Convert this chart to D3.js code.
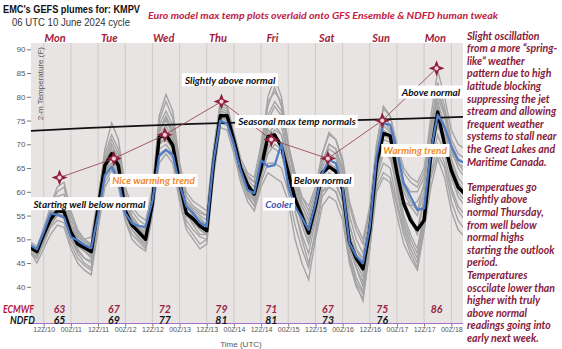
<!DOCTYPE html>
<html>
<head>
<meta charset="utf-8">
<script src="https://cdn.jsdelivr.net/npm/d3@7"></script>
<style>
body { margin: 0; background: #fff; }
svg { display: block; }
.cal { font-family: Lato, "Open Sans", sans-serif; font-weight: bold; font-style: italic; }
.ar { font-family: "Liberation Sans Narrow", "Liberation Sans", Arial, sans-serif; }
</style>
</head>
<body>
<svg></svg>
<script>
// 3-hourly output starting at the 06 UTC cycle time
let startTime = '2024-06-10T06:00Z';
let stepHours = 3;

let meanTemps = [48.3, 47.4, 51.0, 54.2, 56.0, 55.8, 51.5, 49.0, 48.2, 47.4,
    56.5, 65.5, 68.0, 65.5, 56.0, 53.0, 51.5, 50.0,
    57.5, 71.5, 72.0, 69.8, 62.0, 55.5, 54.3, 52.8,
    51.8, 66.0, 76.0, 76.0, 70.8, 65.0, 61.5, 59.5,
    65.0, 71.6, 72.0, 69.5, 64.0, 58.5, 55.0, 51.3,
    57.0, 64.0, 65.3, 64.3, 60.5, 49.5, 46.0, 43.8,
    52.0, 66.0, 72.3, 71.8, 64.0, 57.5, 54.0, 52.0,
    54.0, 68.0, 76.8, 70.0, 64.5, 61.0, 59.5];

let blueTemps = [48.8, 47.9, 51.5, 55.4, 55.2, 54.6, 50.5, 49.8, 48.8, 48.1,
    55.0, 63.5, 65.3, 62.5, 55.5, 53.4, 52.8, 52.6,
    58.0, 67.5, 68.8, 67.8, 61.5, 56.9, 55.5, 53.5,
    52.7, 66.5, 75.0, 74.4, 70.0, 64.5, 60.4, 59.7,
    66.7, 65.3, 65.6, 70.2, 61.1, 56.9, 54.5, 52.0,
    57.5, 63.9, 66.7, 66.0, 61.1, 49.2, 46.5, 44.9,
    52.7, 67.4, 74.4, 74.1, 68.8, 61.8, 59.0, 56.2,
    56.5, 68.8, 76.2, 73.7, 69.5, 66.7, 66.0];

let members = [
    [49, 48, 52, 57, 61, 62, 56, 52, 50, 49, 58, 69, 74.5, 71, 61, 57, 55, 54, 60, 76, 80.5, 77, 66, 60, 58, 57, 56, 69, 78.5, 78, 72, 66, 63, 62, 68, 80, 84, 80, 70, 63, 59, 56, 60, 68, 72, 71, 66, 57, 52, 49, 56, 70, 77.5, 76, 69, 64, 62, 61, 64, 76, 85.5, 80, 73, 70, 69],
    [47.5, 45, 48, 51, 53, 52.5, 48, 45, 43.5, 42.5, 52, 61, 63.5, 61, 54, 50, 48.5, 47.5, 55, 66, 68, 66, 58, 52, 50, 48, 49, 63, 73.5, 73, 68, 62, 58, 56, 61, 64, 63, 62, 58, 50, 45, 41.5, 50, 57, 59, 58, 54, 45, 40, 37.5, 48, 60, 63, 62, 55, 49, 46, 43.5, 52, 61, 67, 63, 56, 52, 50.5],
    [48, 46.5, 50, 54, 57, 57.5, 52, 48, 46, 45, 55, 66, 70, 67, 58, 54, 52, 51, 58, 73, 75, 72, 63, 57, 55, 53, 52, 67, 77, 76.5, 71, 65, 62, 60, 65, 75, 78, 76, 67, 60, 55, 52, 57, 65, 68, 67, 62, 51, 46, 43, 52, 67, 73, 72, 64, 58, 55, 52, 59, 71, 79, 74, 67, 63, 61],
    [48.8, 47.8, 51.5, 55, 57.5, 57, 52.5, 50, 49, 48, 57, 65, 67, 64.5, 56, 53, 51, 49.5, 57, 71, 73, 70.5, 62, 56, 54, 52, 51, 66, 75.5, 75.5, 70, 64, 61, 59, 66, 73, 72, 70, 64, 58, 54, 50, 55, 62, 64, 63, 60, 48, 44, 41, 51, 65, 71, 70.5, 62, 55, 51, 48, 56, 69, 76, 70, 63, 59, 57],
    [47, 46, 49.5, 53, 55, 54.5, 50, 47, 45, 44, 55, 64, 66, 63, 55, 52, 50.5, 49, 58, 70, 71, 69, 61, 55, 53.5, 52, 51, 65, 76.5, 76, 70, 64.5, 61, 58.5, 64, 70, 69, 68, 62, 56, 51, 47, 54, 61, 63, 62, 58, 47, 42, 39, 50, 64, 69, 68, 60, 53, 49, 46, 54, 66, 72, 68, 61, 57, 55],
    [49.5, 48.5, 52, 56, 59, 59.5, 54, 51, 49.5, 48.5, 58, 67, 71, 68, 59, 55, 53, 52, 60, 74, 77, 74, 65, 58, 56, 55, 54, 68, 78, 77.5, 72, 66, 63.5, 62, 69, 78, 82, 78, 69, 62, 57, 54, 56, 60, 62, 61.5, 58, 50, 45, 42, 50, 63, 68, 67, 62, 58, 57, 58, 61, 70, 74, 72, 68, 66, 65],
    [48, 47, 50.5, 54, 56.5, 56, 51, 48.5, 47.5, 46.5, 56, 65, 68.5, 66, 57, 53.5, 52, 50.5, 58, 72, 74, 71, 63, 57, 55, 54, 53, 67, 76, 75.5, 70.5, 64, 60, 58, 64, 71, 73, 72, 66, 60, 56, 53, 58, 66, 70, 69, 64, 53, 48, 46, 54, 68, 75, 73, 66, 61, 58, 56, 62, 73, 81, 77, 70, 66, 64],
    [47.8, 46.8, 50, 53.5, 55.5, 55, 50.5, 47.5, 46, 45.5, 54, 63, 65, 62.5, 55, 52, 50, 48.5, 56, 69, 70, 68, 60, 54, 52, 50.5, 50, 64, 74.5, 74, 69, 63, 59.5, 57, 62, 66, 66, 65, 60, 53, 48, 44, 52, 60, 61, 60, 56, 46, 41, 38.5, 49, 62, 66, 65, 58, 52, 48, 45, 53, 64, 70, 66, 60, 56, 54],
    [49, 47.5, 51, 55.5, 58, 58.5, 53, 50, 48, 47, 57, 66, 69, 66.5, 58, 54, 52.5, 51.5, 59, 73, 76, 73, 64, 58, 56.5, 55.5, 55, 68, 77.5, 77, 71.5, 65.5, 62.5, 61, 67, 76, 79, 77, 70, 64, 59, 57, 61, 68, 72.5, 71, 67, 58, 53, 50, 57, 70, 78, 76, 70, 65, 63, 62, 65, 74, 83, 78, 71, 68, 67],
    [48.5, 47, 50.5, 54.5, 57, 56.5, 52, 49, 47.5, 46, 56, 64, 67.5, 65, 56.5, 53, 51, 50, 57.5, 71, 72.5, 70, 62, 56, 54, 53, 52, 66, 75.5, 75, 70, 64, 61.5, 59.5, 65, 72, 74, 72, 66, 60, 55, 51.5, 57, 64, 66, 65, 61, 51, 47, 44, 53, 66, 72, 71, 63, 57, 54, 51, 58, 70, 78, 73, 66, 62, 60],
    [47.5, 46, 49, 52.5, 54, 53.5, 49, 46, 44.5, 43.5, 53, 62, 64.5, 62, 54, 51, 49.5, 48, 56, 68, 69, 67, 59, 53, 51, 49, 50, 64.5, 75, 74.5, 69.5, 63, 59, 57, 63, 68, 70, 69, 63, 56, 50, 45, 51, 59, 61, 60, 56, 46, 40.5, 37, 48, 61, 64, 63, 57, 51, 47, 44, 52, 63, 68, 65, 58, 54, 52],
    [49, 48, 52.5, 56.5, 60, 61, 55, 51.5, 50, 50.5, 59, 68, 72, 69, 60, 56, 54, 53, 61, 75, 79, 75.5, 66, 59, 57, 56, 55, 69, 79, 78, 72.5, 67, 64, 63, 70, 79, 81, 79, 70, 63, 58, 55, 59, 66, 70, 69, 65, 55, 50, 47, 55, 68, 76, 74, 67, 62, 60, 60, 63, 72, 80, 76, 70, 67, 66],
    [48, 47, 50, 53, 55, 55, 51, 49, 48.5, 48, 56, 64.5, 66, 64, 56, 53, 51.5, 50, 57, 70, 72, 69.5, 61, 55.5, 53, 51, 51, 66, 76, 75.5, 70, 64, 60.5, 58, 63, 69, 71, 70, 64, 58, 53, 49, 55, 63, 65, 64, 60, 49, 44, 40, 50, 65, 70, 69, 61, 54, 50, 47, 55, 68, 74, 70, 64, 60, 58],
    [48.5, 47.5, 51, 55, 58, 58, 53, 50.5, 49.5, 49, 57.5, 66, 70, 67, 58.5, 54.5, 52.5, 51, 58.5, 72.5, 75.5, 72.5, 64, 57.5, 55.5, 54.5, 53, 67, 77, 76.5, 71, 65, 62, 60, 66, 74, 76, 74, 67, 61, 57, 54, 59, 67, 69, 68, 63, 53, 48, 45, 54, 67, 74, 72.5, 65, 60, 57, 55, 60, 72, 82, 76, 69, 65, 63]
];

let normalDates = ['2024-06-10T06:00Z', '2024-06-11T06:00Z', '2024-06-12T06:00Z', '2024-06-13T06:00Z',
    '2024-06-14T06:00Z', '2024-06-15T06:00Z', '2024-06-16T06:00Z', '2024-06-17T06:00Z', '2024-06-18T06:00Z'];
let normalTemps = [72.8, 73.4, 73.9, 74.3, 74.6, 74.8, 75.1, 75.4, 75.8];

let ecmwfTimes = ['2024-06-10T19:00Z', '2024-06-11T19:00Z', '2024-06-12T17:30Z', '2024-06-13T18:30Z',
    '2024-06-14T16:30Z', '2024-06-15T17:30Z', '2024-06-16T17:30Z', '2024-06-17T17:30Z'];
let ecmwfMax = [63, 67, 72, 79, 71, 67, 75, 86];
let ndfdMax = [65, 69, 77, 81, 81, 73, 76];

let dayNames = ['Mon', 'Tue', 'Wed', 'Thu', 'Fri', 'Sat', 'Sun', 'Mon'];
let yTicks = [40, 45, 50, 55, 60, 65, 70, 75, 80, 85, 90];

let notes = [
    { text: 'Starting well below normal', time: '2024-06-11T08:10Z', temp: 57.4, color: '#111' },
    { text: 'Nice warming trend', time: '2024-06-12T12:30Z', temp: 62.3, color: '#ef8a2c' },
    { text: 'Slightly above normal', time: '2024-06-13T22:20Z', temp: 83.5, color: '#111' },
    { text: 'Seasonal max temp normals', time: '2024-06-15T03:50Z', temp: 74.7, color: '#111' },
    { text: 'Below normal', time: '2024-06-15T15:10Z', temp: 62.3, color: '#111' },
    { text: 'Cooler', time: '2024-06-14T19:50Z', temp: 57.3, color: '#4454ad' },
    { text: 'Above normal', time: '2024-06-17T15:00Z', temp: 80.9, color: '#111' },
    { text: 'Warming trend', time: '2024-06-17T08:00Z', temp: 68.6, color: '#ef8a2c' }
];

let sideText = ['Slight oscillation', 'from a more \u201cspring-', 'like\u201d weather', 'pattern due to high',
    'latitude blocking', 'suppressing the jet', 'stream and allowing', 'frequent weather',
    'systems to stall near', 'the Great Lakes and', 'Maritime Canada.', '',
    'Temperatues go', 'slightly above', 'normal Thursday,', 'from well below', 'normal highs',
    'starting the outlook', 'period.', 'Temperatures', 'osccilate lower than', 'higher with truly',
    'above normal', 'readings going into', 'early next week.'];

let width = 562;
let height = 349;
let plot = { left: 31, right: 463, top: 43, bottom: 323.5 };

let svg = d3.select('svg').attr('width', width).attr('height', height);

let t0 = new Date(startTime);
let times = meanTemps.map((v, i) => d3.utcHour.offset(t0, i * stepHours));

let xScale = d3.scaleUtc()
    .domain([t0, new Date('2024-06-18T06:00Z')])
    .range([30.1, 464.9]);

let yScale = d3.scaleLinear()
    .domain([40, 90])
    .range([286.8, 49.3]);

const drawFrame = () => {
    svg.append('defs').append('clipPath').attr('id', 'clip')
        .append('rect')
        .attr('x', plot.left).attr('y', plot.top)
        .attr('width', plot.right - plot.left).attr('height', plot.bottom - plot.top);

    svg.append('rect')
        .attr('x', plot.left).attr('y', plot.top)
        .attr('width', plot.right - plot.left).attr('height', plot.bottom - plot.top)
        .attr('fill', '#e8e4e4');

    let gridTimes = d3.utcHours(new Date('2024-06-10T12:00Z'), new Date('2024-06-18T00:01Z'), 12);
    svg.append('g').selectAll('line')
        .data(gridTimes)
        .enter()
        .append('line')
        .attr('x1', d => xScale(d)).attr('x2', d => xScale(d))
        .attr('y1', plot.top).attr('y2', plot.bottom)
        .attr('stroke', '#cfcaca')
        .attr('stroke-width', 1);

    let xAxis = d3.axisBottom(xScale)
        .tickValues(gridTimes)
        .tickFormat(d3.utcFormat('%HZ/%d'))
        .tickSize(3)
        .tickPadding(0.5);

    let gx = svg.append('g')
        .attr('transform', `translate(0, ${plot.bottom})`)
        .call(xAxis);
    gx.select('.domain').remove();
    gx.selectAll('line').attr('stroke', '#777');
    gx.selectAll('text').attr('class', 'ar').attr('fill', '#555').style('font-size', '7px');

    let yAxis = d3.axisLeft(yScale).tickValues(yTicks).tickSize(4).tickPadding(1.5);
    let gy = svg.append('g')
        .attr('transform', `translate(${plot.left}, 0)`)
        .call(yAxis);
    gy.select('.domain').remove();
    gy.selectAll('line').attr('stroke', '#777');
    gy.selectAll('text').attr('class', 'ar').attr('fill', '#555').style('font-size', '8px');

    svg.append('text')
        .attr('class', 'ar')
        .attr('transform', 'translate(42.5, 47) rotate(-90)')
        .attr('text-anchor', 'end')
        .attr('fill', '#555')
        .style('font-size', '8px')
        .text('2-m Temperature (F)');

    svg.append('text')
        .attr('class', 'ar')
        .attr('x', 241).attr('y', 347)
        .attr('text-anchor', 'middle')
        .attr('fill', '#555')
        .style('font-size', '8px')
        .text('Time (UTC)');
};

const drawLines = () => {
    let g = svg.append('g').attr('clip-path', 'url(#clip)');
    let line = d3.line()
        .x((d, i) => xScale(times[i]))
        .y(d => yScale(d));

    g.selectAll('.member')
        .data(members)
        .enter()
        .append('path')
        .attr('class', 'member')
        .attr('d', line)
        .attr('fill', 'none')
        .attr('stroke', '#a4a4a4')
        .attr('stroke-width', 1.4);

    let normalLine = d3.line()
        .x((d, i) => xScale(new Date(normalDates[i])))
        .y(d => yScale(d));

    g.append('path')
        .attr('d', normalLine(normalTemps))
        .attr('fill', 'none')
        .attr('stroke', '#111')
        .attr('stroke-width', 1.8);

    g.append('path')
        .attr('d', line(meanTemps))
        .attr('fill', 'none')
        .attr('stroke', '#000')
        .attr('stroke-width', 3.4)
        .attr('stroke-linejoin', 'round');

    g.append('path')
        .attr('d', line(blueTemps))
        .attr('fill', 'none')
        .attr('stroke', '#4f7cc6')
        .attr('stroke-width', 2.2)
        .attr('stroke-linejoin', 'round');

    let starLine = d3.line()
        .x((d, i) => xScale(new Date(ecmwfTimes[i])))
        .y(d => yScale(d));

    g.append('path')
        .attr('d', starLine(ecmwfMax))
        .attr('fill', 'none')
        .attr('stroke', '#9a4a5e')
        .attr('stroke-width', 0.9);

    let stars = g.selectAll('.star')
        .data(ecmwfMax)
        .enter()
        .append('g')
        .attr('class', 'star')
        .attr('transform', (d, i) => `translate(${xScale(new Date(ecmwfTimes[i]))}, ${yScale(d)})`);

    stars.append('path')
        .attr('d', 'M0,-8 L2.2,-2.2 L8,0 L2.2,2.2 L0,8 L-2.2,2.2 L-8,0 L-2.2,-2.2 Z')
        .attr('fill', '#8e1f3b');
    stars.append('circle')
        .attr('r', 2.4)
        .attr('fill', '#f4d2d8')
        .attr('stroke', '#8e1f3b')
        .attr('stroke-width', 0.6);
};

const drawNotes = () => {
    let g = svg.append('g');
    notes.forEach(n => {
        let cx = xScale(new Date(n.time));
        let cy = yScale(n.temp);
        let box = g.append('rect').attr('fill', '#fff');
        let label = g.append('text')
            .attr('class', 'cal')
            .attr('x', cx).attr('y', cy)
            .attr('dy', '0.35em')
            .attr('text-anchor', 'middle')
            .attr('fill', n.color)
            .style('font-size', '10px')
            .text(n.text);
        let bb = label.node().getBBox();
        box.attr('x', bb.x - 2).attr('y', bb.y - 0.5)
            .attr('width', bb.width + 4).attr('height', bb.height + 1);
    });
};

const drawText = () => {
    svg.append('text')
        .attr('class', 'ar')
        .attr('x', 3).attr('y', 13)
        .attr('fill', '#111')
        .style('font-size', '11px').style('font-weight', 'bold')
        .attr('textLength', 137).attr('lengthAdjust', 'spacingAndGlyphs')
        .text("EMC's GEFS plumes for: KMPV");

    svg.append('text')
        .attr('class', 'ar')
        .attr('x', 12).attr('y', 26)
        .attr('fill', '#333')
        .style('font-size', '10.5px')
        .attr('textLength', 118).attr('lengthAdjust', 'spacingAndGlyphs')
        .text('06 UTC 10 June 2024 cycle');

    svg.append('text')
        .attr('class', 'cal')
        .attr('x', 148).attr('y', 18.5)
        .attr('fill', '#c21b3f')
        .style('font-size', '10px')
        .attr('textLength', 350).attr('lengthAdjust', 'spacingAndGlyphs')
        .text('Euro model max temp plots overlaid onto GFS Ensemble & NDFD human tweak');

    svg.append('g').selectAll('text')
        .data(dayNames)
        .enter()
        .append('text')
        .attr('class', 'cal')
        .attr('x', (d, i) => xScale(d3.utcDay.offset(new Date('2024-06-10T17:00Z'), i)))
        .attr('y', 41.5)
        .attr('text-anchor', 'middle')
        .attr('fill', '#a2213e')
        .style('font-size', '11px')
        .text(d => d);

    svg.append('g').selectAll('text')
        .data(sideText)
        .enter()
        .append('text')
        .attr('class', 'cal')
        .attr('x', 467)
        .attr('y', (d, i) => 39.5 + i * 12.6)
        .attr('fill', '#861a3c')
        .style('font-size', '10.5px')
        .text(d => d);

    svg.append('line')
        .attr('x1', 30).attr('x2', plot.right)
        .attr('y1', plot.bottom).attr('y2', plot.bottom)
        .attr('stroke', '#a970c8')
        .attr('stroke-width', 1.2);

    svg.append('text')
        .attr('class', 'cal')
        .attr('x', 3).attr('y', 313)
        .attr('fill', '#b3193c')
        .style('font-size', '10.5px')
        .attr('textLength', 31).attr('lengthAdjust', 'spacingAndGlyphs')
        .text('ECMWF');

    svg.append('text')
        .attr('class', 'cal')
        .attr('x', 10).attr('y', 324)
        .attr('fill', '#111')
        .style('font-size', '10.5px')
        .attr('textLength', 25).attr('lengthAdjust', 'spacingAndGlyphs')
        .text('NDFD');

    svg.append('g').selectAll('text')
        .data(ecmwfMax)
        .enter()
        .append('text')
        .attr('class', 'cal')
        .attr('x', (d, i) => xScale(new Date(ecmwfTimes[i])))
        .attr('y', 313)
        .attr('text-anchor', 'middle')
        .attr('fill', '#9a2343')
        .style('font-size', '10.5px')
        .text(d => d);

    svg.append('g').selectAll('text')
        .data(ndfdMax)
        .enter()
        .append('text')
        .attr('class', 'cal')
        .attr('x', (d, i) => xScale(new Date(ecmwfTimes[i])))
        .attr('y', 324)
        .attr('text-anchor', 'middle')
        .attr('fill', '#111')
        .style('font-size', '10.5px')
        .text(d => d);
};

drawFrame();
drawLines();
drawNotes();
drawText();
</script>
</body>
</html>
